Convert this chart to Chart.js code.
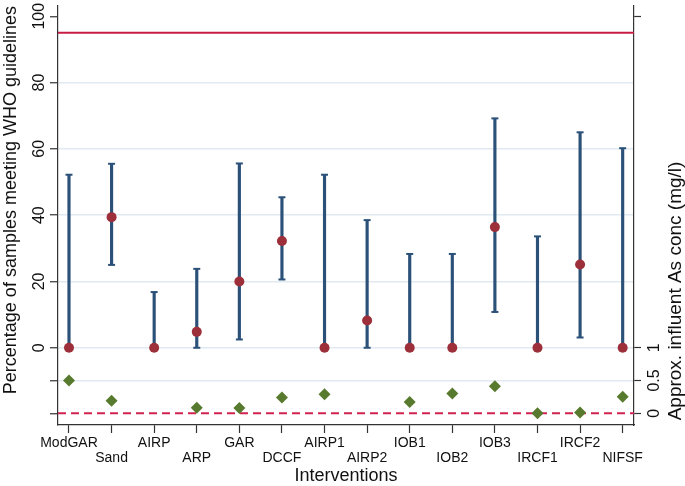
<!DOCTYPE html>
<html>
<head>
<meta charset="utf-8">
<script src="https://cdn.jsdelivr.net/npm/chart.js@4.4.0/dist/chart.umd.min.js"></script>
<style>
    html, body { margin: 0; padding: 0; background: #fff; }
    #contenedor { width: 685px; height: 486px; position: relative; }
</style>
</head>
<body>
<div id="contenedor"><canvas id="grafico"></canvas></div>
<script>
// --- Data ---
const interventions = ['ModGAR', 'Sand', 'AIRP', 'ARP', 'GAR', 'DCCF', 'AIRP1', 'AIRP2',
                       'IOB1', 'IOB2', 'IOB3', 'IRCF1', 'IRCF2', 'NIFSF'];
const pctMeeting = [0, 39.4, 0, 4.8, 20.0, 32.2, 0, 8.2, 0, 0, 36.4, 0, 25.1, 0];
const ciLower    = [0, 25.0, 0, 0, 2.5, 20.6, 0, 0, 0, 0, 10.8, 0, 3.1, 0];
const ciUpper    = [52.2, 55.5, 16.8, 23.8, 55.6, 45.4, 52.2, 38.5, 28.3, 28.3, 69.2, 33.6, 65.0, 60.2];
// approx. influent arsenic (mg/l), right axis
const influentAs = [0.5, 0.19, null, 0.085, 0.08, 0.24, 0.29, null, 0.17, 0.30, 0.41, 0.0, 0.01, 0.25];

const leftTicks  = [-20, -10, 0, 20, 40, 60, 80, 100];
const rightTicks = [0, 0.5, 1];
const whoTarget  = 95;      // solid line, % of samples
const asLimit    = 0;       // dashed line, right axis

// axis ranges (left axis in %, right axis in mg/l, 1 mg/l == 19.74 left units)
const LEFT_MIN = -23.3;
const LEFT_MAX = 103.1;
const LEFT_PER_MG = 19.74;
const toRight = v => 1 + v / LEFT_PER_MG;

const FONT = "'Liberation Sans', Arial, Helvetica, sans-serif";
const NAVY = '#2b5179';
const RED = '#9d2f3b';
const GREEN = '#587a2e';
const AXIS = '#333333';

// Lineas de referencia (OMS y limite) + titulo del eje derecho
const pluginReferencias = {
    id: 'referencias',
    beforeDatasetsDraw: (chart) => {
        const { ctx, chartArea, scales } = chart;
        const yWho = scales.y.getPixelForValue(whoTarget);
        const yLim = scales.y2.getPixelForValue(asLimit);

        ctx.save();
        ctx.lineWidth = 2;
        ctx.strokeStyle = '#c71d45';
        ctx.beginPath();
        ctx.moveTo(chartArea.left, yWho);
        ctx.lineTo(chartArea.right, yWho);
        ctx.stroke();

        ctx.strokeStyle = '#d0234f';
        ctx.setLineDash([8, 5]);
        ctx.beginPath();
        ctx.moveTo(chartArea.left, yLim);
        ctx.lineTo(chartArea.right, yLim);
        ctx.stroke();
        ctx.restore();
    },
    afterDraw: (chart) => {
        const ctx = chart.ctx;
        const eje = chart.scales.y2;
        ctx.save();
        ctx.translate(eje.right - 9, 291);
        ctx.rotate(-Math.PI / 2);
        ctx.font = '19px ' + FONT;
        ctx.fillStyle = '#111';
        ctx.textAlign = 'center';
        ctx.textBaseline = 'middle';
        ctx.fillText('Approx. influent As conc (mg/l)', 0, 0);
        ctx.restore();
    }
};

const puntos = (arr) => arr.map((v, i) => ({ x: i + 1, y: v }));

new Chart(document.getElementById('grafico'), {
    type: 'scatter',
    data: {
        datasets: [
            {
                label: 'Percentage meeting WHO guidelines',
                data: puntos(pctMeeting),
                yAxisID: 'y',
                pointRadius: 5,
                pointBackgroundColor: RED,
                pointBorderWidth: 0
            },
            {
                label: 'Approx. influent As conc',
                data: puntos(influentAs),
                yAxisID: 'y2',
                pointStyle: 'rectRot',
                pointRadius: 6,
                pointBackgroundColor: GREEN,
                pointBorderWidth: 0
            },
            {
                label: 'CI caps',
                data: puntos(ciLower).concat(puntos(ciUpper)),
                yAxisID: 'y',
                pointStyle: 'line',
                pointRadius: 3.5,
                borderColor: NAVY,
                pointBorderColor: NAVY,
                pointBorderWidth: 2
            },
            {
                type: 'bar',
                label: '95% CI',
                data: interventions.map((c, i) => ({ x: i + 1, y: [ciLower[i], ciUpper[i]] })),
                yAxisID: 'y',
                backgroundColor: NAVY,
                borderWidth: 0,
                barThickness: 2.5,
                grouped: false
            }
        ]
    },
    options: {
        responsive: true,
        maintainAspectRatio: false,
        animation: false,
        layout: { padding: { top: 5, left: 0, right: 0, bottom: 0 } },
        plugins: {
            legend: { display: false },
            tooltip: { enabled: false }
        },
        scales: {
            x: {
                type: 'linear',
                min: 0.742,
                max: 14.266,
                offset: false,
                afterBuildTicks: (s) => { s.ticks = interventions.map((c, i) => ({ value: i + 1 })); },
                afterFit: (s) => { s.height = 61; s.paddingLeft = 0; s.paddingRight = 0; },
                grid: { drawOnChartArea: false, offset: false, tickLength: 8, tickColor: AXIS, tickWidth: 1.2 },
                border: { color: AXIS, width: 1.2 },
                ticks: {
                    autoSkip: false,
                    minRotation: 0,
                    maxRotation: 0,
                    padding: 3,
                    color: '#111',
                    font: { family: FONT, size: 14, lineHeight: '15px' },
                    // etiquetas alternadas en dos filas
                    callback: (v, i) => (i % 2 ? ['', interventions[i]] : interventions[i])
                },
                title: {
                    display: true,
                    text: 'Interventions',
                    color: '#111',
                    font: { family: FONT, size: 18, lineHeight: 1.15 },
                    padding: { top: 0, bottom: 0 }
                }
            },
            y: {
                position: 'left',
                min: LEFT_MIN,
                max: LEFT_MAX,
                afterBuildTicks: (s) => { s.ticks = leftTicks.map(v => ({ value: v })); },
                afterFit: (s) => { s.width = 58; s.paddingTop = 0; s.paddingBottom = 0; },
                grid: {
                    color: (c) => (c.tick && (c.tick.value === 100 || c.tick.value === -20)) ? 'rgba(0,0,0,0)' : '#e2eaf1',
                    lineWidth: 1.5,
                    tickLength: 8,
                    tickColor: AXIS,
                    tickWidth: 1.2
                },
                border: { color: AXIS, width: 1.2 },
                ticks: {
                    minRotation: 90,
                    maxRotation: 90,
                    crossAlign: 'center',
                    padding: -3,
                    color: '#111',
                    font: { family: FONT, size: 16 },
                    callback: (v) => (v >= 0 ? String(v) : '')
                },
                title: {
                    display: true,
                    text: 'Percentage of samples meeting WHO guidelines',
                    align: 'end',
                    color: '#111',
                    font: { family: FONT, size: 18, lineHeight: 1.2 },
                    padding: { top: 0, bottom: 0 }
                }
            },
            y2: {
                position: 'right',
                min: toRight(LEFT_MIN),
                max: toRight(LEFT_MAX),
                afterBuildTicks: (s) => { s.ticks = rightTicks.concat([toRight(100)]).map(v => ({ value: v })); },
                afterFit: (s) => { s.width = 51; s.paddingTop = 0; s.paddingBottom = 0; },
                grid: { drawOnChartArea: false, tickLength: 7, tickColor: AXIS, tickWidth: 1.2 },
                border: { color: AXIS, width: 1.2 },
                ticks: {
                    minRotation: 90,
                    maxRotation: 90,
                    crossAlign: 'center',
                    padding: 2,
                    color: '#111',
                    font: { family: FONT, size: 16 },
                    callback: (v) => (rightTicks.includes(v) ? String(v) : '')
                },
                title: { display: false }
            }
        }
    },
    plugins: [pluginReferencias]
});
</script>
</body>
</html>
